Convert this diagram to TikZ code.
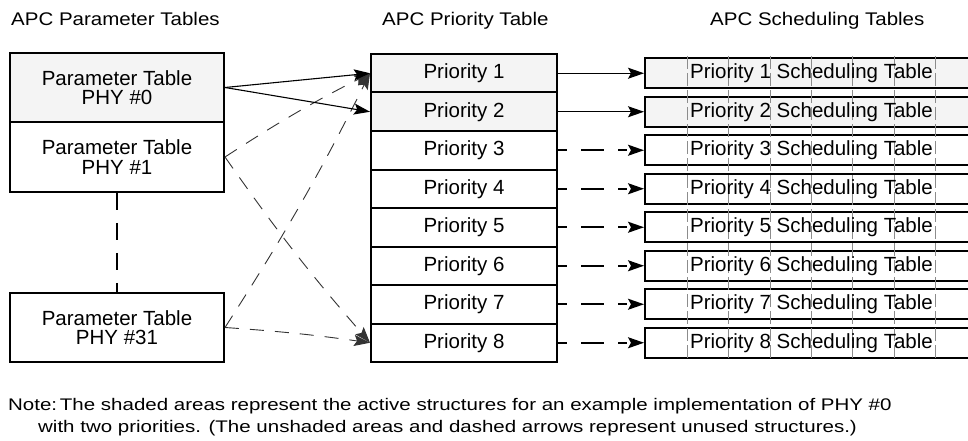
\documentclass[tikz,border=0pt]{standalone}
\usepackage{fontspec}
\setmainfont{Liberation Sans}
\newfontfamily\headfont{Liberation Sans}[FakeStretch=1.12]
\newfontfamily\notefont{Liberation Sans}[FakeStretch=1.22]
\usetikzlibrary{arrows.meta}

\definecolor{shade}{gray}{0.955}
\definecolor{gridgray}{gray}{0.55}

\tikzset{
  box/.style={draw, line width=2pt, inner sep=0pt, align=center,
              font=\fontsize{20.5}{19.5}\selectfont},
  parbox/.style={box, minimum width=214pt, minimum height=69.5pt},
  prow/.style={box, minimum width=186pt, minimum height=38.5pt},
  sbox/.style={box, minimum width=345pt, minimum height=30pt},
  heading/.style={anchor=base west, inner sep=0pt,
                  font=\headfont\fontsize{18.3}{22}\selectfont},
  noteline/.style={anchor=base west, inner sep=0pt,
                  font=\notefont\fontsize{16.8}{22}\selectfont},
  tip/.style={-{Stealth[length=16pt, width=11pt, inset=3pt]}},
  active/.style={tip, line width=1.1pt},
  unused/.style={tip, line width=0.9pt, black!80, dash pattern=on 14pt off 11pt},
  rowunused/.style={tip, line width=1.6pt, dash pattern=on 9pt off 14pt on 23pt off 14pt},
  linkdash/.style={line width=1.6pt, dash pattern=on 17pt off 13pt},
  gridline/.style={gridgray, line width=0.8pt, dash pattern=on 13pt off 4pt},
}

\begin{document}
\begin{tikzpicture}[x=1pt, y=-1pt]
\useasboundingbox (0,0) rectangle (968,441);

% column headings
\node[heading] (hpar) at (11,26) {APC Parameter Tables};
\node[heading] (hpri) at (382,26) {APC Priority Table};
\node[heading] (hsch) at (710,26) {APC Scheduling Tables};

% parameter tables
\node[parbox, fill=shade] (p0)  at (117,87.5)  {Parameter Table\\PHY \#0};
\node[parbox]             (p1)  at (117,157)   {Parameter Table\\PHY \#1};
\node[parbox]             (p31) at (117,327.5) {Parameter Table\\PHY \#31};
\draw[linkdash] (p1.south) -- (p31.north);

% priority table and scheduling tables
\foreach \i in {1,...,8} {
  \pgfmathsetmacro{\yc}{73.25+38.5*(\i-1)}
  \ifnum\i<3
    \node[prow, fill=shade] (r\i) at (464,\yc) {Priority \i};
    \node[sbox, fill=shade] (s\i) at (817.5,\yc) {};
  \else
    \node[prow] (r\i) at (464,\yc) {Priority \i};
    \node[sbox] (s\i) at (817.5,\yc) {};
  \fi
}

% grid of the scheduling tables
\foreach \gx in {687,728,770,811,852,894,935}
  \draw[gridline] (\gx,56) -- (\gx,360);

% scheduling table titles
\foreach \i in {1,...,8}
  \node[font=\fontsize{20.5}{24}\selectfont, inner sep=0pt] (st\i) at (811.5,{73.25+38.5*(\i-1)}) {Priority \i\ Scheduling Table};

% priority -> scheduling
\draw[active] (r1.east) -- (s1.west);
\draw[active] (r2.east) -- (s2.west);
\foreach \i in {3,...,8}
  \draw[rowunused] (r\i.east) -- (s\i.west);

% parameter -> priority
\draw[unused] (p1.east) to[bend left=3] (r1.west);
\draw[unused] (p1.east) to[bend right=3] (r8.west);
\draw[unused] (p31.east) to[bend right=3] (r1.west);
\draw[unused] (p31.east) to[bend left=2] (r8.west);
\draw[active] (p0.east) -- (r1.west);
\draw[active] (p0.east) -- (r2.west);

% note
\node[noteline] (note1) at (8,410) {Note:\,The shaded areas represent the active structures for an example implementation of PHY \#0};
\node[noteline] (note2) at (38,432) {with two priorities. (The unshaded areas and dashed arrows represent unused structures.)};
\end{tikzpicture}
\end{document}
